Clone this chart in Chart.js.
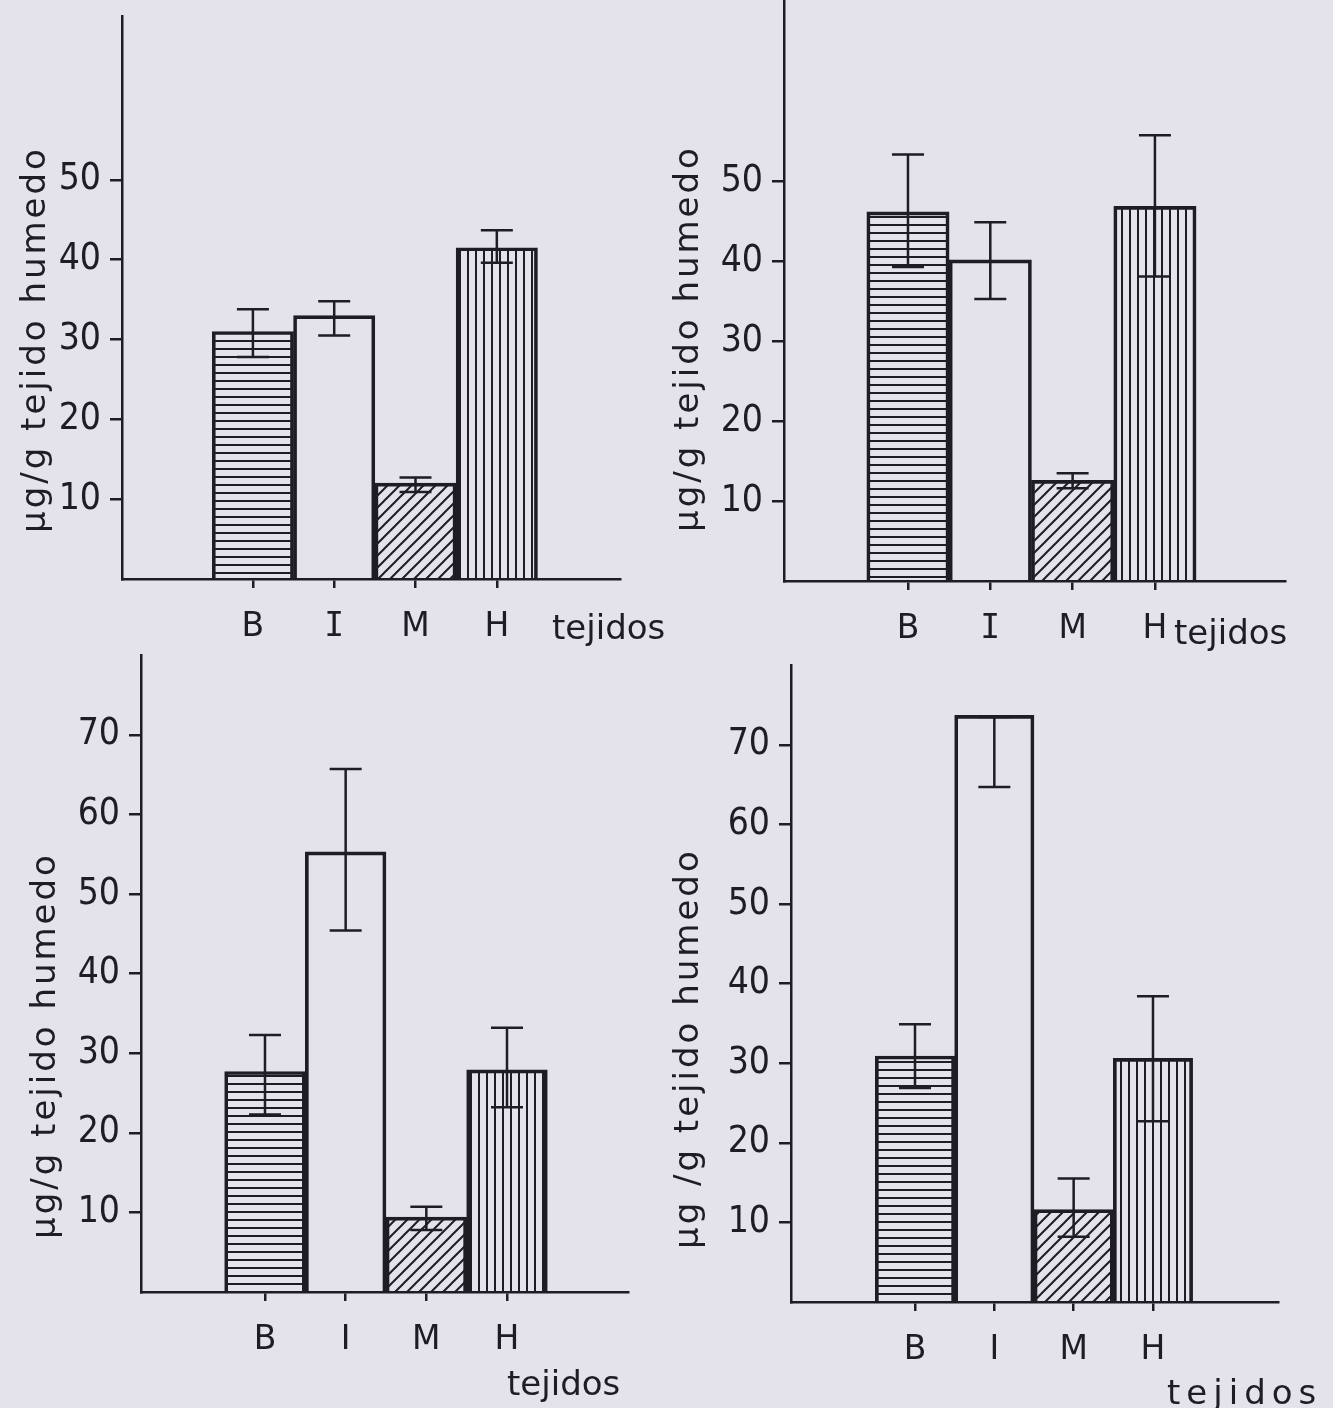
<!DOCTYPE html>
<html lang="es">
<head>
  <meta charset="UTF-8">
  <title>Tejidos</title>
  <script src="https://cdn.jsdelivr.net/npm/chart.js"></script>
  <style>
    html, body {
      margin: 0;
      padding: 0;
    }
    body {
      width: 1333px;
      height: 1408px;
      background: #e4e3eb;
      position: relative;
      overflow: hidden;
    }
    canvas {
      position: absolute;
    }
  </style>
</head>
<body>
  <canvas id="c1"></canvas>
  <canvas id="c2"></canvas>
  <canvas id="c3"></canvas>
  <canvas id="c4"></canvas>

  <script>
    const tejidos = ['B', 'I', 'M', 'H'];

    // arriba izquierda
    const valoresA = [31, 33, 12, 41.5];
    const bajoA = [27.8, 30.5, 10.9, 39.6];
    const altoA = [33.8, 34.8, 12.7, 43.7];

    // arriba derecha
    const valoresB = [46.2, 40.2, 12.6, 46.9];
    const bajoB = [39.3, 35.3, 11.6, 38.1];
    const altoB = [53.4, 44.9, 13.5, 55.8];

    // abajo izquierda
    const valoresC = [27.7, 55.3, 9.4, 27.9];
    const bajoC = [22.3, 45.4, 7.8, 23.2];
    const altoC = [32.3, 65.7, 10.7, 33.2];

    // abajo derecha
    const valoresD = [30.9, 73.7, 11.6, 30.6];
    const bajoD = [26.9, 64.7, 8.2, 22.7];
    const altoD = [34.9, 73.5, 15.5, 38.4];

    const ticksArriba = [10, 20, 30, 40, 50];
    const ticksAbajo = [10, 20, 30, 40, 50, 60, 70];

    const tinta = '#1e1d23';
    const PAD_L = 32, Y_W = 90, PAD_T = 30, X_H = 70, PAD_B = 60, PAD_R = 70;

    // tramas de las barras
    function trama(tipo) {
      const c = document.createElement('canvas');
      const s = tipo === 'diag' ? 12 : 8;
      c.width = s;
      c.height = s;
      const g = c.getContext('2d');
      g.strokeStyle = tinta;
      g.lineWidth = 2;
      g.beginPath();
      if (tipo === 'horiz') {
        g.moveTo(0, 4); g.lineTo(s, 4);
      } else if (tipo === 'vert') {
        g.moveTo(4, 0); g.lineTo(4, s);
      } else {
        g.moveTo(-2, s + 2); g.lineTo(s + 2, -2);
        g.moveTo(-2, 2); g.lineTo(2, -2);
        g.moveTo(s - 2, s + 2); g.lineTo(s + 2, s - 2);
      }
      g.stroke();
      return g.createPattern(c, 'repeat');
    }
    const rellenos = [trama('horiz'), 'rgba(0,0,0,0)', trama('diag'), trama('vert')];

    const barrasError = {
      id: 'barrasError',
      afterDatasetsDraw(chart, args, o) {
        const meta = chart.getDatasetMeta(0);
        const y = chart.scales.y;
        const ctx = chart.ctx;
        ctx.save();
        ctx.strokeStyle = tinta;
        ctx.lineWidth = 2.5;
        meta.data.forEach((bar, i) => {
          const arriba = y.getPixelForValue(o.alto[i]);
          const abajo = y.getPixelForValue(o.bajo[i]);
          ctx.beginPath();
          ctx.moveTo(bar.x, arriba); ctx.lineTo(bar.x, abajo);
          ctx.moveTo(bar.x - 16, arriba); ctx.lineTo(bar.x + 16, arriba);
          ctx.moveTo(bar.x - 16, abajo); ctx.lineTo(bar.x + 16, abajo);
          ctx.stroke();
        });
        ctx.restore();
      }
    };

    const rotulos = {
      id: 'rotulos',
      afterDraw(chart, args, o) {
        const a = chart.chartArea;
        const ctx = chart.ctx;
        ctx.save();
        ctx.fillStyle = tinta;
        ctx.font = '34px "DejaVu Sans"';
        ctx.textBaseline = 'alphabetic';
        ctx.textAlign = 'left';
        ctx.letterSpacing = '3px';
        ctx.translate(a.left - o.yDx, a.bottom - o.yDy);
        ctx.rotate(-Math.PI / 2);
        ctx.fillText(o.yTitulo, 0, 0);
        ctx.restore();

        ctx.save();
        ctx.fillStyle = tinta;
        ctx.font = '34px "DejaVu Sans"';
        ctx.textBaseline = 'alphabetic';
        ctx.textAlign = 'left';
        ctx.letterSpacing = o.espacioX;
        ctx.fillText(o.xTitulo, a.right - o.xDx, a.bottom + o.xDy);
        ctx.restore();
      }
    };

    const paneles = [
      { id: 'c1', valores: valoresA, bajo: bajoA, alto: altoA, ticks: ticksArriba, iSerif: true,
        area: { left: 122, right: 620, top: 15, bottom: 579 }, yMax: 70.5, xMin: -0.61, xMax: 5.515,
        yTitulo: 'μg/g tejido humedo', yDx: 77, yDy: 46, xDx: 68, xDy: 60, espacioX: '0px' },
      { id: 'c2', valores: valoresB, bajo: bajoB, alto: altoB, ticks: ticksArriba, iSerif: true,
        area: { left: 784, right: 1285, top: -5, bottom: 581 }, yMax: 73.2, xMin: -0.506, xMax: 5.58,
        yTitulo: 'μg/g tejido humedo', yDx: 86, yDy: 49, xDx: 111, xDy: 63, espacioX: '0px' },
      { id: 'c3', valores: valoresC, bajo: bajoC, alto: altoC, ticks: ticksAbajo, iSerif: false,
        area: { left: 141, right: 628, top: 654, bottom: 1292 }, yMax: 80, xMin: -0.537, xMax: 5.5,
        yTitulo: 'μg/g tejido humedo', yDx: 86, yDy: 53, xDx: 121, xDy: 103, espacioX: '0px' },
      { id: 'c4', valores: valoresD, bajo: bajoD, alto: altoD, ticks: ticksAbajo, iSerif: false,
        area: { left: 791, right: 1278, top: 664, bottom: 1302 }, yMax: 80, xMin: -0.563, xMax: 5.576,
        yTitulo: 'μg /g tejido humedo', yDx: 93, yDy: 53, xDx: 111, xDy: 102, espacioX: '6px' }
    ];

    paneles.forEach(p => {
      const cv = document.getElementById(p.id);
      const w = p.area.right - p.area.left + PAD_L + Y_W + PAD_R;
      const h = p.area.bottom - p.area.top + PAD_T + X_H + PAD_B;
      cv.width = w;
      cv.height = h;
      cv.style.width = w + 'px';
      cv.style.height = h + 'px';
      cv.style.left = (p.area.left - PAD_L - Y_W) + 'px';
      cv.style.top = (p.area.top - PAD_T) + 'px';

      new Chart(cv, {
        type: 'bar',
        data: {
          datasets: [{
            data: tejidos.map((t, i) => ({ x: i + 1, y: p.valores[i] })),
            backgroundColor: rellenos,
            borderColor: tinta,
            borderWidth: 3,
            categoryPercentage: 1,
            barPercentage: 1
          }]
        },
        options: {
          responsive: false,
          animation: false,
          devicePixelRatio: 1,
          layout: { padding: { left: PAD_L, top: PAD_T, right: PAD_R, bottom: PAD_B } },
          plugins: {
            legend: { display: false },
            tooltip: { enabled: false },
            barrasError: { bajo: p.bajo, alto: p.alto },
            rotulos: { yTitulo: p.yTitulo, yDx: p.yDx, yDy: p.yDy, xTitulo: 'tejidos', xDx: p.xDx, xDy: p.xDy, espacioX: p.espacioX }
          },
          scales: {
            x: {
              type: 'linear',
              min: p.xMin,
              max: p.xMax,
              offset: false,
              afterBuildTicks: s => { s.ticks = tejidos.map((t, i) => ({ value: i + 1 })); },
              afterFit: s => { s.height = X_H; },
              ticks: {
                callback: v => tejidos[v - 1] || '',
                autoSkip: false,
                maxRotation: 0,
                color: tinta,
                padding: 20,
                font: c => ({
                  family: (p.iSerif && c.tick && c.tick.value === 2) ? '"DejaVu Sans Mono"' : '"DejaVu Sans"',
                  size: 33
                })
              },
              grid: { offset: false, drawOnChartArea: false, tickLength: 9, color: tinta, lineWidth: 2.5 },
              border: { color: tinta, width: 2.5 }
            },
            y: {
              min: 0,
              max: p.yMax,
              afterBuildTicks: s => { s.ticks = p.ticks.map(v => ({ value: v })); },
              afterFit: s => { s.width = Y_W; },
              ticks: {
                color: tinta,
                padding: 9,
                font: { family: '"Liberation Sans Narrow", "DejaVu Sans Condensed", sans-serif', size: 37 }
              },
              grid: { drawOnChartArea: false, tickLength: 12, color: tinta, lineWidth: 2.5 },
              border: { color: tinta, width: 2.5 }
            }
          }
        },
        plugins: [barrasError, rotulos]
      });
    });
  </script>
</body>
</html>
